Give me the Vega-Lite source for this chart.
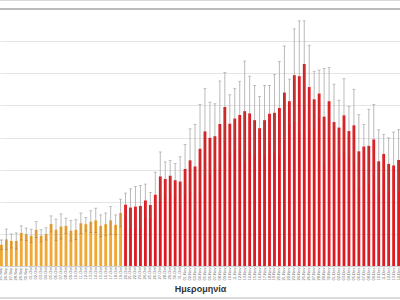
{
  "$schema": "https://vega.github.io/schema/vega-lite/v6.json",
  "width": 400,
  "height": 257,
  "autosize": {"type": "none"},
  "padding": {"left": 0, "right": 0, "top": 9, "bottom": 34},
  "background": "white",
  "config": {
    "view": {"stroke": null},
    "font": "Liberation Sans"
  },
  "data": {
    "values": [
      {"d":"25-Sep","v":66,"hi":81,"lo":51,"p":"a"},
      {"d":"26-Sep","v":83,"hi":115,"lo":51,"p":"a"},
      {"d":"27-Sep","v":78,"hi":100,"lo":56,"p":"a"},
      {"d":"28-Sep","v":78,"hi":103,"lo":53,"p":"a"},
      {"d":"29-Sep","v":103,"hi":125,"lo":81,"p":"a"},
      {"d":"30-Sep","v":99,"hi":118,"lo":80,"p":"a"},
      {"d":"01-Oct","v":94,"hi":115,"lo":73,"p":"a"},
      {"d":"02-Oct","v":113,"hi":138,"lo":88,"p":"a"},
      {"d":"03-Oct","v":94,"hi":113,"lo":75,"p":"a"},
      {"d":"04-Oct","v":100,"hi":119,"lo":81,"p":"a"},
      {"d":"05-Oct","v":131,"hi":156,"lo":106,"p":"a"},
      {"d":"06-Oct","v":113,"hi":146,"lo":80,"p":"a"},
      {"d":"07-Oct","v":123,"hi":162,"lo":84,"p":"a"},
      {"d":"08-Oct","v":125,"hi":149,"lo":101,"p":"a"},
      {"d":"09-Oct","v":110,"hi":142,"lo":78,"p":"a"},
      {"d":"10-Oct","v":113,"hi":144,"lo":82,"p":"a"},
      {"d":"11-Oct","v":133,"hi":165,"lo":101,"p":"a"},
      {"d":"12-Oct","v":130,"hi":151,"lo":109,"p":"a"},
      {"d":"13-Oct","v":138,"hi":172,"lo":104,"p":"a"},
      {"d":"14-Oct","v":142,"hi":180,"lo":104,"p":"a"},
      {"d":"15-Oct","v":125,"hi":159,"lo":91,"p":"a"},
      {"d":"16-Oct","v":130,"hi":165,"lo":95,"p":"a"},
      {"d":"17-Oct","v":142,"hi":185,"lo":99,"p":"a"},
      {"d":"18-Oct","v":128,"hi":159,"lo":97,"p":"a"},
      {"d":"19-Oct","v":165,"hi":208,"lo":122,"p":"a"},
      {"d":"20-Oct","v":191,"hi":227,"lo":155,"p":"b"},
      {"d":"21-Oct","v":182,"hi":240,"lo":124,"p":"b"},
      {"d":"22-Oct","v":185,"hi":248,"lo":122,"p":"b"},
      {"d":"23-Oct","v":187,"hi":251,"lo":123,"p":"b"},
      {"d":"24-Oct","v":204,"hi":255,"lo":153,"p":"b"},
      {"d":"25-Oct","v":190,"hi":229,"lo":151,"p":"b"},
      {"d":"26-Oct","v":222,"hi":292,"lo":152,"p":"b"},
      {"d":"27-Oct","v":279,"hi":355,"lo":203,"p":"b"},
      {"d":"28-Oct","v":271,"hi":324,"lo":218,"p":"b"},
      {"d":"29-Oct","v":281,"hi":328,"lo":234,"p":"b"},
      {"d":"30-Oct","v":267,"hi":319,"lo":215,"p":"b"},
      {"d":"31-Oct","v":263,"hi":340,"lo":186,"p":"b"},
      {"d":"01-Nov","v":302,"hi":378,"lo":226,"p":"b"},
      {"d":"02-Nov","v":329,"hi":427,"lo":231,"p":"b"},
      {"d":"03-Nov","v":310,"hi":441,"lo":179,"p":"b"},
      {"d":"04-Nov","v":365,"hi":503,"lo":227,"p":"b"},
      {"d":"05-Nov","v":419,"hi":552,"lo":286,"p":"b"},
      {"d":"06-Nov","v":399,"hi":510,"lo":288,"p":"b"},
      {"d":"07-Nov","v":404,"hi":505,"lo":303,"p":"b"},
      {"d":"08-Nov","v":442,"hi":576,"lo":308,"p":"b"},
      {"d":"09-Nov","v":495,"hi":602,"lo":388,"p":"b"},
      {"d":"10-Nov","v":443,"hi":533,"lo":353,"p":"b"},
      {"d":"11-Nov","v":459,"hi":552,"lo":366,"p":"b"},
      {"d":"12-Nov","v":470,"hi":575,"lo":365,"p":"b"},
      {"d":"13-Nov","v":482,"hi":638,"lo":326,"p":"b"},
      {"d":"14-Nov","v":475,"hi":591,"lo":359,"p":"b"},
      {"d":"15-Nov","v":454,"hi":562,"lo":346,"p":"b"},
      {"d":"16-Nov","v":429,"hi":528,"lo":330,"p":"b"},
      {"d":"17-Nov","v":454,"hi":562,"lo":346,"p":"b"},
      {"d":"18-Nov","v":474,"hi":562,"lo":386,"p":"b"},
      {"d":"19-Nov","v":477,"hi":596,"lo":358,"p":"b"},
      {"d":"20-Nov","v":492,"hi":637,"lo":347,"p":"b"},
      {"d":"21-Nov","v":540,"hi":685,"lo":395,"p":"b"},
      {"d":"22-Nov","v":513,"hi":582,"lo":444,"p":"b"},
      {"d":"23-Nov","v":594,"hi":738,"lo":450,"p":"b"},
      {"d":"24-Nov","v":591,"hi":763,"lo":419,"p":"b"},
      {"d":"25-Nov","v":629,"hi":763,"lo":495,"p":"b"},
      {"d":"26-Nov","v":557,"hi":687,"lo":427,"p":"b"},
      {"d":"27-Nov","v":519,"hi":606,"lo":432,"p":"b"},
      {"d":"28-Nov","v":537,"hi":610,"lo":464,"p":"b"},
      {"d":"29-Nov","v":465,"hi":615,"lo":315,"p":"b"},
      {"d":"30-Nov","v":513,"hi":618,"lo":408,"p":"b"},
      {"d":"01-Dec","v":448,"hi":566,"lo":330,"p":"b"},
      {"d":"02-Dec","v":431,"hi":516,"lo":346,"p":"b"},
      {"d":"03-Dec","v":469,"hi":583,"lo":355,"p":"b"},
      {"d":"04-Dec","v":420,"hi":496,"lo":344,"p":"b"},
      {"d":"05-Dec","v":438,"hi":550,"lo":326,"p":"b"},
      {"d":"06-Dec","v":357,"hi":471,"lo":243,"p":"b"},
      {"d":"07-Dec","v":372,"hi":441,"lo":303,"p":"b"},
      {"d":"08-Dec","v":374,"hi":488,"lo":260,"p":"b"},
      {"d":"09-Dec","v":394,"hi":503,"lo":285,"p":"b"},
      {"d":"10-Dec","v":326,"hi":424,"lo":228,"p":"b"},
      {"d":"11-Dec","v":349,"hi":409,"lo":289,"p":"b"},
      {"d":"12-Dec","v":318,"hi":399,"lo":237,"p":"b"},
      {"d":"13-Dec","v":313,"hi":417,"lo":209,"p":"b"},
      {"d":"14-Dec","v":330,"hi":425,"lo":235,"p":"b"}
    ]
  },
  "encoding": {
    "x": {
      "field": "d",
      "type": "nominal",
      "sort": null,
      "scale": {"paddingInner": 0.43, "paddingOuter": 0},
      "axis": {
        "title": "Ημερομηνία",
        "titleFont": "Liberation Sans",
        "titleFontSize": 9,
        "titleFontWeight": "bold",
        "titleColor": "#333333",
        "titlePadding": 5,
        "labelAngle": -90,
        "labelFontSize": 4,
        "labelColor": "#666666",
        "labelPadding": 1,
        "labelOverlap": false,
        "labelBound": false,
        "ticks": false,
        "domain": true,
        "domainColor": "#d0d0d0",
        "grid": false
      }
    }
  },
  "layer": [
    {
      "mark": {"type": "bar"},
      "encoding": {
        "y": {
          "field": "v",
          "type": "quantitative",
          "scale": {"domain": [0, 800], "nice": false, "zero": true},
          "axis": {
            "title": null,
            "labels": false,
            "ticks": false,
            "domain": false,
            "grid": true,
            "gridColor": "#e4e4e4",
            "gridWidth": 1,
            "values": [100, 200, 300, 400, 500, 600, 700]
          }
        },
        "color": {
          "field": "p",
          "type": "nominal",
          "scale": {"domain": ["a", "b"], "range": ["#F0A733", "#DD1A22"]},
          "legend": null
        }
      }
    },
    {
      "mark": {"type": "rule", "color": "#a8a8a8", "strokeWidth": 0.8},
      "encoding": {
        "y": {"field": "v", "type": "quantitative"},
        "y2": {"field": "hi"}
      }
    },
    {
      "mark": {"type": "rule", "color": "#8a6a50", "strokeWidth": 0.6, "opacity": 0.6},
      "encoding": {
        "y": {"field": "lo", "type": "quantitative"},
        "y2": {"field": "v"}
      }
    },
    {
      "mark": {"type": "tick", "color": "#9a9a9a", "size": 3, "thickness": 0.8, "orient": "horizontal"},
      "encoding": {"y": {"field": "hi", "type": "quantitative"}}
    },
    {
      "mark": {"type": "tick", "color": "#8a6a50", "size": 3, "thickness": 0.6, "orient": "horizontal", "opacity": 0.6},
      "encoding": {"y": {"field": "lo", "type": "quantitative"}}
    },
    {
      "mark": {"type": "rule", "color": "#bdbdbd", "strokeWidth": 1.5},
      "encoding": {"y": {"datum": 800, "type": "quantitative"}, "x": {"value": 0}, "x2": {"value": 400}}
    },
    {
      "mark": {"type": "rule", "color": "#d9d9d9", "strokeWidth": 1, "clip": false},
      "encoding": {"y": {"datum": 827, "type": "quantitative"}, "x": {"value": 0}, "x2": {"value": 400}}
    },
    {
      "mark": {"type": "rule", "color": "#d9d9d9", "strokeWidth": 1, "clip": false},
      "encoding": {"y": {"datum": -101, "type": "quantitative"}, "x": {"value": 0}, "x2": {"value": 400}}
    }
  ]
}
